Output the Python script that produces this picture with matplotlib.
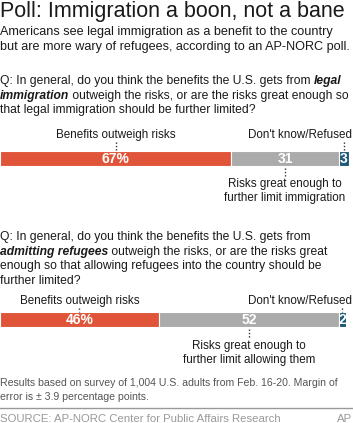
import matplotlib
matplotlib.use("Agg")
import matplotlib.pyplot as plt

plt.rcParams['font.family'] = ['Liberation Sans', 'DejaVu Sans']

categories = ["Benefits outweigh risks", "Risks great enough", "Don't know/Refused"]
legal_values = [67, 31, 3]
refugee_values = [46, 52, 2]
colors = ["#E0553A", "#ABABAB", "#1D5876"]

W, H = 353, 423
fig = plt.figure(figsize=(W / 100, H / 100), dpi=100)
ax = fig.add_axes([0, 0, 1, 1])
PX_PER_PCT = 3.455
ax.set_xlim(0, W / PX_PER_PCT)
ax.set_ylim(H, 0)
ax.axis('off')
renderer = fig.canvas.get_renderer()

TXT = "#1a1a1a"

def ftext(x, y, s, **kw):
    kw.setdefault('color', TXT)
    kw.setdefault('va', 'center')
    return fig.text(x / W, 1 - y / H, s, **kw)

def runs(x, y, parts, fs):
    """parts: list of (text, emphasized)"""
    for s, emph in parts:
        kw = dict(fontsize=fs)
        if emph:
            kw.update(fontweight='bold', fontstyle='italic')
        t = ftext(x, y, s, **kw)
        bb = t.get_window_extent(renderer)
        x += bb.width

ftext(0, 11, "Poll: Immigration a boon, not a bane", fontsize=15.5)
ftext(0, 32, "Americans see legal immigration as a benefit to the country", fontsize=9.1)
ftext(0, 47, "but are more wary of refugees, according to an AP-NORC poll.", fontsize=9.1)

qfs = 8.7
runs(0, 81, [("Q: In general, do you think the benefits the U.S. gets from ", False), ("legal", True)], qfs)
runs(0, 95.5, [("immigration", True), (" outweigh the risks, or are the risks great enough so", False)], qfs)
runs(0, 110, [("that legal immigration should be further limited?", False)], qfs)

runs(0, 237, [("Q: In general, do you think the benefits the U.S. gets from", False)], qfs)
runs(0, 251.5, [("admitting refugees", True), (" outweigh the risks, or are the risks great", False)], qfs)
runs(0, 266, [("enough so that allowing refugees into the country should be", False)], qfs)
runs(0, 280.5, [("further limited?", False)], qfs)

LFS = 8.4

def draw_bar(values, yc, label_y, gray_lines, lab_y2, pct_fs):
    left = 0
    centers = []
    for i, v in enumerate(values):
        ax.barh(yc, v, left=left, height=15, color=colors[i], edgecolor='white', linewidth=0.8)
        centers.append(left + v / 2)
        left += v
    ax.text(centers[0], yc, f"{values[0]}%", color='white', fontsize=pct_fs, fontweight='bold', ha='center', va='center')
    ax.text(centers[1], yc, f"{values[1]}", color='white', fontsize=pct_fs, fontweight='bold', ha='center', va='center')
    ax.text(centers[2], yc, f"{values[2]}", color='white', fontsize=pct_fs, fontweight='bold', ha='center', va='center')
    ax.text(centers[0], label_y, categories[0], color=TXT, fontsize=LFS, ha='center', va='center')
    ftext(352, label_y, categories[2], fontsize=LFS, ha='right')
    dot = dict(color='#333333', linestyle=(0, (1, 1.4)), linewidth=1.0)
    ax.plot([centers[0], centers[0]], [label_y + 7, yc - 8], **dot)
    ax.plot([centers[2], centers[2]], [label_y + 7, yc - 8], **dot)
    ax.plot([centers[1], centers[1]], [yc + 9, yc + 18], **dot)
    ax.text(centers[1], lab_y2, gray_lines[0], color=TXT, fontsize=LFS, ha='center', va='center')
    ax.text(centers[1], lab_y2 + 14.5, gray_lines[1], color=TXT, fontsize=LFS, ha='center', va='center')

draw_bar(legal_values, 159, 135, ["Risks great enough to", "further limit immigration"], 184, 10)
draw_bar(refugee_values, 320, 301, ["Risks great enough to", "further limit allowing them"], 346, 10)

ftext(0, 383, "Results based on survey of 1,004 U.S. adults from Feb. 16-20. Margin of", fontsize=7.6, color='#555555')
ftext(0, 397, "error is \u00b1 3.9 percentage points.", fontsize=7.6, color='#555555')
ax.plot([0, W / PX_PER_PCT], [408, 408], color='#999999', linewidth=1)
ftext(0, 419, "SOURCE: AP-NORC Center for Public Affairs Research", fontsize=8.2, color='#999999')
ftext(352, 419, "AP", fontsize=8.2, color='#999999', ha='right')

fig.savefig("out.png", dpi=100)
